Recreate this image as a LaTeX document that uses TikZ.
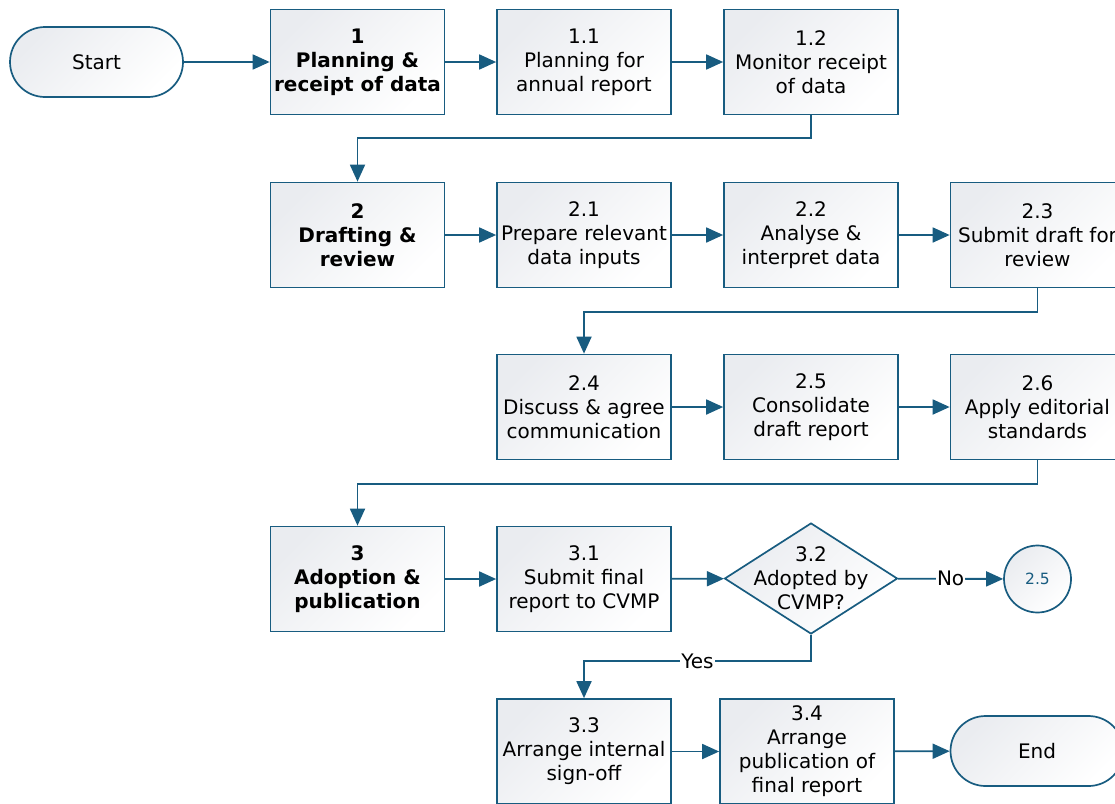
\documentclass[tikz,border=0pt]{standalone}
\usepackage{fontspec}
\setmainfont{DejaVu Sans}
\usetikzlibrary{shapes.geometric,arrows.meta,calc}
\definecolor{ln}{RGB}{24,92,128}
\definecolor{fl}{RGB}{234,236,240}
\tikzset{
  base/.style={draw=ln, line width=1.7pt, top color=fl, bottom color=white, shading angle=45,
    align=center, inner sep=0pt, font=\fontsize{20}{24}\selectfont},
  box/.style={base, rectangle, minimum width=174pt, minimum height=105pt},
  term/.style={base, rectangle, rounded corners=35pt, minimum width=173pt, minimum height=70pt},
  dia/.style={base, diamond, minimum width=173pt, minimum height=111pt},
  conn/.style={base, circle, minimum size=67pt, text=ln, font=\fontsize{15.5}{18}\selectfont},
  arr/.style={draw=ln, line width=1.8pt, -{Triangle[length=17pt,width=15pt]}},
  lbl/.style={fill=white, inner sep=1pt, font=\fontsize{20}{24}\selectfont, text=black},
  txt/.style={align=center, font=\fontsize{20}{24}\selectfont, inner sep=0pt}
}
\begin{document}
\begin{tikzpicture}[x=1pt,y=-1pt]
\useasboundingbox (0,0) rectangle (1115,803);
\clip (0,0) rectangle (1115,803);
% row 1
\node[term] (start) at (96.5,62) {Start};
\node[box] (b1) at (357.5,62) {\textbf{1}\\\textbf{Planning \&}\\\textbf{receipt of data}};
\node[box] (b11) at (584,62) {1.1\\Planning for\\annual report};
\node[box] (b12) at (811,62) {1.2\\Monitor receipt\\of data};
% row 2
\node[box] (b2) at (357.5,235) {\textbf{2}\\\textbf{Drafting \&}\\\textbf{review}};
\node[box] (b21) at (584,235) {2.1\\Prepare relevant\\data inputs};
\node[box] (b22) at (811,235) {2.2\\Analyse \&\\interpret data};
\node[box] (b23) at (1037.5,235) {2.3\\Submit draft for\\review};
% row 3
\node[box] (b24) at (584,407) {2.4\\Discuss \& agree\\communication};
\node[box] (b25) at (811,407) {2.5\\Consolidate\\draft report};
\node[box] (b26) at (1037.5,407) {2.6\\Apply editorial\\standards};
% row 4
\node[box] (b3) at (357.5,579) {\textbf{3}\\\textbf{Adoption \&}\\\textbf{publication}};
\node[box] (b31) at (584,579) {3.1\\Submit final\\report to CVMP};
\node[dia] (d32) at (811,578.5) {};
\node[txt] (t32) at (d32.center) {3.2\\Adopted by\\CVMP?};
\node[conn] (c25) at (1037.5,579) {2.5};
% row 5
\node[box] (b33) at (584,751.5) {3.3\\Arrange internal\\sign-off};
\node[box] (b34) at (807,751.5) {3.4\\Arrange\\publication of\\final report};
\node[term] (end) at (1037,751) {End};
% connectors
\draw[arr] (start) -- (b1);
\draw[arr] (b1) -- (b11);
\draw[arr] (b11) -- (b12);
\draw[arr] (b12.south) -- ++(0,23) -| (b2.north);
\draw[arr] (b2) -- (b21);
\draw[arr] (b21) -- (b22);
\draw[arr] (b22) -- (b23);
\draw[arr] (b23.south) -- ++(0,24) -| (b24.north);
\draw[arr] (b24) -- (b25);
\draw[arr] (b25) -- (b26);
\draw[arr] (b26.south) -- ++(0,24) -| (b3.north);
\draw[arr] (b3) -- (b31);
\draw[arr] (b31) -- (d32);
\draw[arr] (d32) -- node[lbl] {No} (c25);
\draw[arr] (d32.south) -- ++(0,26) -| node[lbl, pos=0.25] {Yes} (b33.north);
\draw[arr] (b33) -- (b34);
\draw[arr] (b34) -- (end);
\end{tikzpicture}
\end{document}
